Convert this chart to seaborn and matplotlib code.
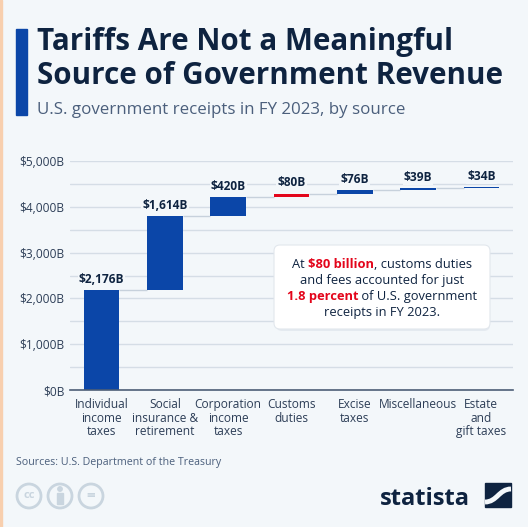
import numpy as np
import pandas as pd
import matplotlib.pyplot as plt
import seaborn as sns
from matplotlib.patches import Rectangle, FancyBboxPatch, Circle, PathPatch
from matplotlib.path import Path
from matplotlib.transforms import IdentityTransform

# data
categories = ["Individual\nincome\ntaxes", "Social\ninsurance &\nretirement",
              "Corporation\nincome\ntaxes", "Customs\nduties", "Excise\ntaxes",
              "Miscellaneous", "Estate\nand\ngift taxes"]
receipts = [2176, 1614, 420, 80, 76, 39, 34]
value_labels = ["$2,176B", "$1,614B", "$420B", "$80B", "$76B", "$39B", "$34B"]
y_ticks = [0, 1000, 2000, 3000, 4000, 5000]
y_tick_labels = ["$0B", "$1,000B", "$2,000B", "$3,000B", "$4,000B", "$5,000B"]
highlight = "Customs\nduties"

BG = "#f3f7fa"
NAVY = "#0e2340"
BLUE = "#0b46a8"
RED = "#e3051b"
GREY_TXT = "#4b5f7c"
W, H = 528, 527

sns.set_theme(style="white")
plt.rcParams["font.family"] = ["Open Sans", "DejaVu Sans"]

fig = plt.figure(figsize=(W / 100, H / 100), dpi=100, facecolor=BG)
ID = IdentityTransform()


def px(x, y):
    return x, H - y


# left edge border
fig.patches.append(Rectangle((0, 0), 2, H, transform=ID, color="#f8cfae", zorder=0))

# title block
fig.patches.append(Rectangle(px(16, 115), 11, 86, transform=ID, color=BLUE))
fig.text(*px(37, 50), "Tariffs Are Not a Meaningful", transform=ID, fontsize=21.3,
         fontweight="bold", color=NAVY, va="baseline")
fig.text(*px(37, 84), "Source of Government Revenue", transform=ID, fontsize=21.3,
         fontweight="bold", color=NAVY, va="baseline")
fig.text(*px(37, 114), "U.S. government receipts in FY 2023, by source", transform=ID,
         fontsize=12.2, color=GREY_TXT, va="baseline")

# chart
ax = fig.add_axes([70 / W, 137 / H, 443 / W, 229 / H])
ax.set_facecolor(BG)
df = pd.DataFrame({"source": categories, "receipts": receipts})
bar_w = 0.56
sns.barplot(data=df, x="source", y="receipts", color=BLUE, saturation=1,
            width=bar_w, linewidth=0, ax=ax, zorder=3)

tops = np.cumsum(receipts)
bottoms = tops - np.array(receipts)
for i, (p, b) in enumerate(zip(ax.patches, bottoms)):
    p.set_y(b)
    if categories[i] == highlight:
        p.set_facecolor(RED)

for i in range(len(receipts) - 1):
    ax.hlines(tops[i], i + bar_w / 2, i + 1 - bar_w / 2, color="#c7d1dc", lw=1, zorder=2)

for i, lab in enumerate(value_labels):
    ax.annotate(lab, (i, tops[i]), xytext=(0, 3), textcoords="offset points",
                ha="center", va="bottom", fontsize=8.6, fontweight="bold", color=NAVY,
                bbox=dict(fc=BG, ec="none", pad=0.8), zorder=4)

ax.set_xlim(-0.5, 6.5)
ax.set_ylim(0, 5000)
ax.set_yticks(y_ticks)
ax.set_yticklabels(y_tick_labels)
ax.set_yticks(np.arange(500, 5000, 1000), minor=True)
ax.yaxis.grid(True, which="both", color="#d5dde6", lw=1, zorder=0)
ax.set_axisbelow(True)
ax.tick_params(axis="both", which="both", length=0, labelsize=8.6, colors="#2d3e57")
ax.tick_params(axis="y", pad=4)
ax.tick_params(axis="x", pad=6)
for t in ax.get_xticklabels():
    t.set_linespacing(1.05)
ax.set_xlabel("")
ax.set_ylabel("")
for s in ["top", "right", "left"]:
    ax.spines[s].set_visible(False)
ax.spines["bottom"].set_color("#4d5e76")
ax.spines["bottom"].set_linewidth(1.2)
ax.spines["bottom"].set_zorder(5)

# callout box
fig.patches.append(FancyBboxPatch(px(276, 331), 214, 84, transform=ID,
                                  boxstyle="round,pad=0,rounding_size=6",
                                  fc="#dfe5ec", ec="none", alpha=0.7, zorder=5))
fig.patches.append(FancyBboxPatch(px(274, 329), 216, 84, transform=ID,
                                  boxstyle="round,pad=0,rounding_size=6",
                                  fc="white", ec="#e2e7ed", lw=0.8, zorder=6))

callout = [
    [("At ", NAVY, "normal"), ("$80 billion", RED, "bold"), (", customs duties", NAVY, "normal")],
    [("and fees accounted for just", NAVY, "normal")],
    [("1.8 percent", RED, "bold"), (" of U.S. government", NAVY, "normal")],
    [("receipts in FY 2023.", NAVY, "normal")],
]
renderer = fig.canvas.get_renderer()
for k, parts in enumerate(callout):
    y = 268 + 16 * k
    objs = [fig.text(0, 0, s, transform=ID, fontsize=9.3, fontweight=w, color=c,
                     va="baseline", zorder=7) for s, c, w in parts]
    widths = [o.get_window_extent(renderer).width for o in objs]
    x = 382 - sum(widths) / 2
    for o, wd in zip(objs, widths):
        o.set_position(px(x, y))
        x += wd

# footer
fig.text(*px(16, 465), "Sources: U.S. Department of the Treasury", transform=ID,
         fontsize=7.7, color=GREY_TXT, va="baseline")
for cx in [29, 60, 91]:
    fig.patches.append(Circle(px(cx, 496), 12, transform=ID, fc="none", ec="#c9d5df", lw=2))
fig.text(*px(29, 496), "cc", transform=ID, fontsize=8, fontweight="bold",
         color="#c9d5df", ha="center", va="center")
fig.patches.append(Circle(px(60, 489), 2.2, transform=ID, color="#c9d5df"))
fig.patches.append(Rectangle(px(57, 504), 6, 11, transform=ID, color="#c9d5df"))
fig.text(*px(91, 496), "=", transform=ID, fontsize=11, fontweight="bold",
         color="#c9d5df", ha="center", va="center")

fig.text(*px(380, 505), "statista", transform=ID, fontsize=17, fontweight="bold",
         color=NAVY, va="baseline")
fig.patches.append(Rectangle(px(485, 507), 26, 24, transform=ID, color=NAVY))
swoosh = Path([px(485, 502), px(497, 502), px(499, 489), px(511, 489)],
              [Path.MOVETO, Path.CURVE4, Path.CURVE4, Path.CURVE4])
fig.patches.append(PathPatch(swoosh, transform=ID, fc="none", ec=BG, lw=3.5))

fig.savefig("out.png", dpi=100, facecolor=BG)
